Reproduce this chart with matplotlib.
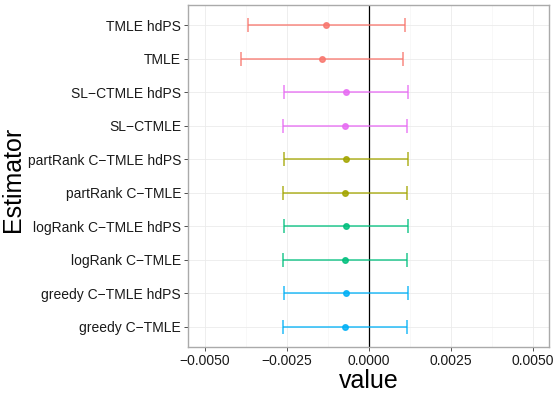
import matplotlib
matplotlib.use("Agg")
import matplotlib.pyplot as plt
import numpy as np

plt.rcParams['font.family'] = ['Liberation Sans', 'DejaVu Sans']

estimators = ["TMLE hdPS", "TMLE", "SL\u2212CTMLE hdPS", "SL\u2212CTMLE",
              "partRank C\u2212TMLE hdPS", "partRank C\u2212TMLE",
              "logRank C\u2212TMLE hdPS", "logRank C\u2212TMLE",
              "greedy C\u2212TMLE hdPS", "greedy C\u2212TMLE"]
estimate = [-0.00130, -0.00142, -0.00070, -0.00072, -0.00070, -0.00072,
            -0.00070, -0.00072, -0.00070, -0.00072]
lower = [-0.00368, -0.00389, -0.00260, -0.00262, -0.00260, -0.00262,
         -0.00260, -0.00262, -0.00260, -0.00262]
upper = [0.00110, 0.00105, 0.00120, 0.00118, 0.00120, 0.00118,
         0.00120, 0.00118, 0.00120, 0.00118]
colors = ["#F8766D", "#F8766D", "#E76BF3", "#E76BF3", "#A3A500", "#A3A500",
          "#00BF7D", "#00BF7D", "#00B0F6", "#00B0F6"]
xticks = [-0.005, -0.0025, 0.0, 0.0025, 0.005]
xticklabels = ["\u22120.0050", "\u22120.0025", "0.0000", "0.0025", "0.0050"]

fig = plt.figure(figsize=(5.54, 3.93), dpi=100)
ax = fig.add_axes([188/554, 1-347/393, (549-188)/554, (347-5)/393])

n = len(estimators)
ypos = np.arange(n)[::-1]

# grid
for t in xticks:
    ax.axvline(t, color="#EBEBEB", lw=0.6, zorder=0)
for t in np.array(xticks[:-1]) + 0.00125:
    ax.axvline(t, color="#F4F4F4", lw=0.4, zorder=0)
for y in ypos:
    ax.axhline(y, color="#EBEBEB", lw=0.6, zorder=0)

ax.axvline(0, color="black", lw=0.9, zorder=1)

for i in range(n):
    y = ypos[i]
    c = colors[i]
    ax.errorbar(estimate[i], y,
                xerr=[[estimate[i] - lower[i]], [upper[i] - estimate[i]]],
                fmt="o", color=c, ecolor=c, elinewidth=1.1, capsize=5,
                capthick=1.1, markersize=4, alpha=0.85, zorder=2)

ax.set_xlim(-0.00552, 0.0055)
ax.set_ylim(-0.6, n - 1 + 0.6)
ax.set_yticks(ypos)
ax.set_yticklabels(estimators, fontsize=10, color="#1a1a1a")
ax.set_xticks(xticks)
ax.set_xticklabels(xticklabels, fontsize=10, color="#1a1a1a")
ax.tick_params(length=3, width=0.6, color="#333333", pad=2)
for s in ax.spines.values():
    s.set_color("#AAAAAA")
    s.set_linewidth(1.0)
ax.set_xlabel("value", fontsize=18, labelpad=1)
ax.set_ylabel("Estimator", fontsize=18)
ax.yaxis.set_label_coords(-0.452, 0.49)

fig.savefig("out.png", dpi=100)
